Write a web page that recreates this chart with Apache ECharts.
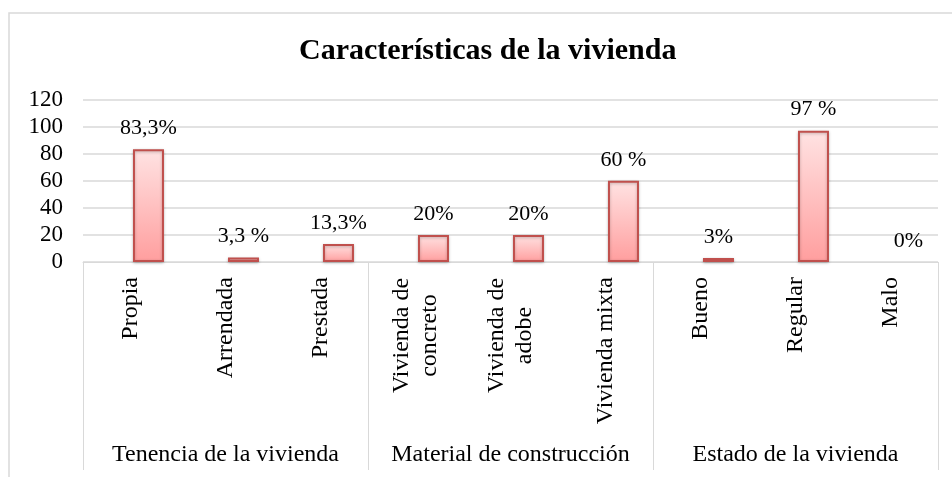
<!DOCTYPE html>
<html>
<head>
<meta charset="utf-8">
<script src="https://cdn.jsdelivr.net/npm/echarts@6/dist/echarts.min.js"></script>
<style>html,body{margin:0;padding:0;background:#fff}#c{width:952px;height:477px}</style>
</head>
<body>
<div id="c"></div>
<script>
const categories = ['Propia', 'Arrendada', 'Prestada', 'Vivienda de\nconcreto', 'Vivienda de\nadobe', 'Vivienda mixta', 'Bueno', 'Regular', 'Malo'];
const groups = ['Tenencia de la vivienda', 'Material de construcción', 'Estado de la vivienda'];
const values = [83.3, 3.3, 13.3, 20, 20, 60, 3, 97, 0];
const valueLabels = ['83,3%', '3,3 %', '13,3%', '20%', '20%', '60 %', '3%', '97 %', '0%'];
const yTicks = [0, 20, 40, 60, 80, 100, 120];

const FONT = '"Liberation Serif", "Times New Roman", serif';
const chart = echarts.init(document.getElementById('c'));
const barData = values.map((v, i) => ({
  value: v,
  itemStyle: v === 0 ? { borderWidth: 0 } : undefined
}));
chart.setOption({
  animation: false,
  title: {
    text: 'Características de la vivienda',
    left: 294, top: 31,
    textStyle: { fontFamily: FONT, fontSize: 30, fontWeight: 'bold', color: '#000' }
  },
  graphic: [{
    type: 'rect', shape: { x: 9, y: 13, width: 1000, height: 1000 },
    style: { fill: 'none', stroke: '#d9d9d9', lineWidth: 1.5 }, silent: true, z: -1
  }],
  grid: { left: 83, right: 14, top: 99.5, bottom: 215 },
  xAxis: [{
    type: 'category', data: categories, position: 'bottom',
    axisLine: { lineStyle: { color: '#d9d9d9', width: 1 } },
    axisTick: { show: false },
    axisLabel: {
      rotate: 90, margin: 15, interval: 0, color: '#000',
      fontFamily: FONT, fontSize: 24, lineHeight: 28,
      formatter: v => v.indexOf('\n') < 0 ? v : v.split('\n').map(l => '{m|' + l + '}').join('\n'),
      rich: { m: { width: 117, align: 'center', fontFamily: FONT, fontSize: 24, lineHeight: 28, color: '#000' } }
    }
  }, {
    type: 'category', data: groups, position: 'bottom',
    axisLine: { show: false },
    axisTick: { show: true, length: 208, lineStyle: { color: '#d9d9d9', width: 1 } },
    axisLabel: { margin: 181, interval: 0, color: '#000', fontFamily: FONT, fontSize: 24 }
  }],
  yAxis: {
    type: 'value', min: yTicks[0], max: yTicks[yTicks.length - 1], interval: 20,
    axisLine: { show: false }, axisTick: { show: false },
    axisLabel: { margin: 20, color: '#000', fontFamily: FONT, fontSize: 23 },
    splitLine: { lineStyle: { color: '#d9d9d9', width: 1.5 } }
  },
  series: [{
    type: 'bar', xAxisIndex: 0, data: values.map(() => null), barWidth: 31, barGap: '16%'
  }, {
    type: 'bar', xAxisIndex: 0, data: barData, barWidth: 31,
    itemStyle: {
      color: new echarts.graphic.LinearGradient(0, 0, 0, 1, [
        { offset: 0, color: '#ffe3e3' },
        { offset: 1, color: '#ff9e9e' }
      ]),
      borderColor: '#c0504d', borderWidth: 2,
      shadowColor: 'rgba(0,0,0,0.25)', shadowBlur: 3, shadowOffsetY: 1
    },
    label: {
      show: true, position: 'top', distance: 10,
      formatter: p => valueLabels[p.dataIndex],
      fontFamily: FONT, fontSize: 22, color: '#000'
    }
  }]
});
</script>
</body>
</html>
